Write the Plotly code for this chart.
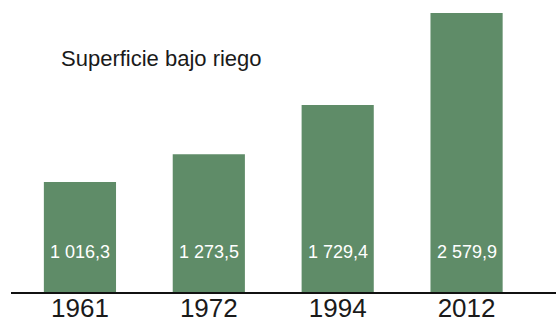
import plotly.graph_objects as go

# Irrigated area by year
years = ["1961", "1972", "1994", "2012"]
values = [1016.3, 1273.5, 1729.4, 2579.9]
title_text = "Superficie bajo riego"

BAR_COLOR = "#5f8c68"
FONT = "Liberation Sans, Arial, sans-serif"

PLOT_LEFT = 11
PLOT_WIDTH = 556 - PLOT_LEFT


def fmt(v):
    # thousands separated by a space, decimal comma
    return f"{v:,.1f}".replace(",", " ").replace(".", ",")


fig = go.Figure()
fig.add_trace(go.Bar(
    x=years,
    y=values,
    marker=dict(color=BAR_COLOR, line=dict(width=0)),
    width=0.56,
    hoverinfo="skip",
))

# value labels sitting at a common height inside each bar
# (category axis: annotations are positioned by category index)
label_y = 368
for i, v in enumerate(values):
    fig.add_annotation(
        x=i, y=label_y, xref="x", yref="y",
        text=fmt(v), showarrow=False,
        font=dict(family=FONT, size=18, color="white"),
        xanchor="center", yanchor="middle",
    )

fig.add_annotation(
    x=(59 - PLOT_LEFT) / PLOT_WIDTH, y=0.798, xref="paper", yref="paper",
    text=title_text, showarrow=False,
    font=dict(family=FONT, size=22, color="#1a1a1a"),
    xanchor="left", yanchor="middle",
)

fig.update_layout(
    width=556, height=324,
    margin=dict(l=PLOT_LEFT, r=0, t=0, b=32, autoexpand=False),
    paper_bgcolor="white", plot_bgcolor="white",
    showlegend=False,
    xaxis=dict(
        type="category",
        automargin=False,
        range=[-0.535, 3.694],
        showline=True, linecolor="#111111", linewidth=2,
        showgrid=False, zeroline=False, ticks="",
        ticklabelstandoff=-8,
        tickfont=dict(family=FONT, size=26, color="#1a1a1a"),
    ),
    yaxis=dict(
        range=[0, 2699],
        visible=False, showgrid=False, zeroline=False,
        automargin=False,
    ),
)

fig.write_html("out.html")
